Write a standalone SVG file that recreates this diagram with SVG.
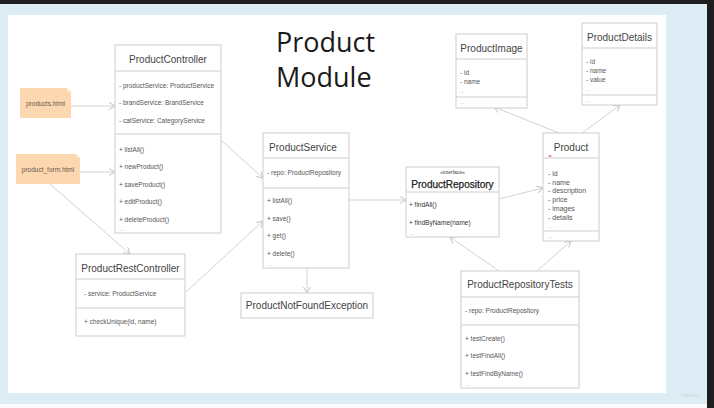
<svg xmlns="http://www.w3.org/2000/svg" width="714" height="408" viewBox="0 0 714 408">
<defs>
<style>
.box{fill:#fff;stroke:#cdcdcd;stroke-width:1}
.div{stroke:#cdcdcd;stroke-width:1}
.ttl{font-family:"Liberation Sans",Arial,sans-serif;font-size:10px;fill:#444;text-anchor:middle}
.mem{font-family:"Liberation Sans",Arial,sans-serif;font-size:6.5px;fill:#555}
.pm{font-family:"Liberation Sans",Arial,sans-serif;font-size:7px;fill:#555}
.dots{font-family:"Liberation Sans",Arial,sans-serif;font-size:6px;fill:#aaa}
.note{fill:#fcd7b0}
.fold{fill:#fde9d4}
.ntx{font-family:"Liberation Sans",Arial,sans-serif;font-size:6.5px;fill:#6a5a4a;text-anchor:middle}
.con{fill:none;stroke:#d2d2d2;stroke-width:1}
</style>
<marker id="arr" viewBox="-7 -4 8 8" refX="0" refY="0" markerWidth="8" markerHeight="8" markerUnits="userSpaceOnUse" orient="auto">
<path d="M-6,-3.5 L0,0 L-6,3.5" fill="none" stroke="#c4c4c4" stroke-width="1"/>
</marker>
</defs>
<rect x="0" y="0" width="714" height="408" fill="#fbfbfb"/>
<rect x="0" y="0" width="707" height="404" fill="#deedf5"/>
<rect x="0" y="0" width="714" height="4" fill="#1e1e1e"/>
<rect x="707" y="0" width="7" height="408" fill="#1e1e1e"/>
<rect x="8" y="15" width="658" height="378" fill="#fff"/>
<text x="690" y="397" font-family="Liberation Sans,Arial,sans-serif" font-size="6" fill="#c8d8e2" text-anchor="middle">Udemy</text>

<text font-family="'Open Sans','Noto Sans',sans-serif" font-size="27" fill="#1a1a1a"><tspan x="276" y="52">Product</tspan><tspan x="276" y="87">Module</tspan></text>

<g id="connectors">
<path class="con" d="M71,106 L115,106" marker-end="url(#arr)"/>
<path class="con" d="M80,172 L115,172" marker-end="url(#arr)"/>
<path class="con" d="M50,184 L130,254" marker-end="url(#arr)"/>
<path class="con" d="M221,140 L263,178" marker-end="url(#arr)"/>
<path class="con" d="M186,292 L263,221" marker-end="url(#arr)"/>
<path class="con" d="M307,268 L307,293" marker-end="url(#arr)"/>
<path class="con" d="M349,200 L406,200" marker-end="url(#arr)"/>
<path class="con" d="M499,199 L543,188" marker-end="url(#arr)"/>
<path class="con" d="M559,133 L494,107" marker-end="url(#arr)"/>
<path class="con" d="M582,133 L620,105" marker-end="url(#arr)"/>
<path class="con" d="M499,271 L450,237" marker-end="url(#arr)"/>
<path class="con" d="M537,271 L571,241" marker-end="url(#arr)"/>
</g>

<g id="products_html">
<path class="note" d="M20,88 H67 L71,92 V118 H20 Z"/>
<path class="fold" d="M67,88 L71,92 H67 Z"/>
<text class="ntx" x="45.5" y="106.3">products.html</text>
</g>

<g id="product_form_html">
<path class="note" d="M16,154 H76 L80,158 V184 H16 Z"/>
<path class="fold" d="M76,154 L80,158 H76 Z"/>
<text class="ntx" x="48" y="172.3">product_form.html</text>
</g>

<g id="ProductController">
<rect class="box" x="115" y="45" width="106" height="188"/>
<line class="div" x1="115" y1="71" x2="221" y2="71"/>
<line class="div" x1="115" y1="134" x2="221" y2="134"/>
<text class="ttl" x="168" y="62.5">ProductController</text>
<text class="mem" x="119" y="87.5">- productService: ProductService</text>
<text class="mem" x="119" y="104.5">- brandService: BrandService</text>
<text class="mem" x="119" y="122.5">- catService: CategoryService</text>
<text class="mem" x="119" y="151.5">+ listAll()</text>
<text class="mem" x="119" y="168.5">+ newProduct()</text>
<text class="mem" x="119" y="186.5">+ saveProduct()</text>
<text class="mem" x="119" y="203.5">+ editProduct()</text>
<text class="mem" x="119" y="221.5">+ deleteProduct()</text>
<text class="dots" x="119" y="230.5">...</text>
</g>

<g id="ProductService">
<rect class="box" x="263" y="133" width="86" height="135"/>
<line class="div" x1="263" y1="158" x2="349" y2="158"/>
<line class="div" x1="263" y1="188" x2="349" y2="188"/>
<text class="ttl" x="303" y="150.5">ProductService</text>
<text class="mem" x="267" y="175.3">- repo: ProductRepository</text>
<text class="mem" x="267" y="203.3">+ listAll()</text>
<text class="mem" x="267" y="221.3">+ save()</text>
<text class="mem" x="267" y="238.3">+ get()</text>
<text class="mem" x="267" y="256.3">+ delete()</text>
<text class="dots" x="267" y="265.5">...</text>
</g>

<g id="ProductRestController">
<rect class="box" x="76" y="254" width="109" height="82"/>
<line class="div" x1="76" y1="279" x2="185" y2="279"/>
<line class="div" x1="76" y1="308" x2="185" y2="308"/>
<text class="ttl" x="130.5" y="271.5">ProductRestController</text>
<text class="mem" x="84" y="296.3">- service: ProductService</text>
<text class="mem" x="84" y="324.3">+ checkUnique(id, name)</text>
</g>

<g id="ProductNotFoundException">
<rect class="box" x="241" y="293" width="132" height="25"/>
<text class="ttl" x="307" y="309">ProductNotFoundException</text>
</g>

<g id="ProductRepository">
<rect class="box" x="406" y="167" width="93" height="70"/>
<line class="div" x1="406" y1="192" x2="499" y2="192"/>
<text class="ttl" x="452.5" y="173.8" style="font-size:5px">«interface»</text>
<text class="ttl" x="452.5" y="187.5" style="font-size:10px;fill:#222;stroke:#222;stroke-width:0.25">ProductRepository</text>
<text class="mem" x="409" y="207.3" style="fill:#333">+ findAll()</text>
<text class="mem" x="409" y="225.3" style="fill:#333">+ findByName(name)</text>
<text class="dots" x="409" y="234.5">...</text>
</g>

<g id="Product">
<rect class="box" x="543" y="133" width="56" height="108"/>
<line class="div" x1="543" y1="158" x2="599" y2="158"/>
<line class="div" x1="543" y1="231" x2="599" y2="231"/>
<text class="ttl" x="571" y="150.5">Product</text>
<line x1="548.5" y1="156" x2="551.5" y2="156" stroke="#e03030" stroke-width="1"/>
<text class="pm" x="548" y="175.5">- id</text>
<text class="pm" x="548" y="184.5">- name</text>
<text class="pm" x="548" y="192.5">- description</text>
<text class="pm" x="548" y="201.5">- price</text>
<text class="pm" x="548" y="210.5">- images</text>
<text class="pm" x="548" y="219.5">- details</text>
<text class="dots" x="548" y="227.5">...</text>
<text class="dots" x="548" y="238">...</text>
</g>

<g id="ProductImage">
<rect class="box" x="456" y="34" width="71" height="74"/>
<line class="div" x1="456" y1="59" x2="527" y2="59"/>
<line class="div" x1="456" y1="97" x2="527" y2="97"/>
<text class="ttl" x="491.5" y="51.5">ProductImage</text>
<text class="mem" x="460" y="75.3">- id</text>
<text class="mem" x="460" y="84.3">- name</text>
<text class="dots" x="460" y="92.5">...</text>
<text class="dots" x="460" y="104">...</text>
</g>

<g id="ProductDetails">
<rect class="box" x="582" y="23" width="75" height="82"/>
<line class="div" x1="582" y1="48" x2="657" y2="48"/>
<line class="div" x1="582" y1="95" x2="657" y2="95"/>
<text class="ttl" x="619.5" y="40.5">ProductDetails</text>
<text class="mem" x="586" y="64.3">- id</text>
<text class="mem" x="586" y="73.3">- name</text>
<text class="mem" x="586" y="82.3">- value</text>
<text class="dots" x="586" y="90.5">...</text>
<text class="dots" x="586" y="102">...</text>
</g>

<g id="ProductRepositoryTests">
<rect class="box" x="461" y="271" width="118" height="117"/>
<line class="div" x1="461" y1="297" x2="579" y2="297"/>
<line class="div" x1="461" y1="325" x2="579" y2="325"/>
<text class="ttl" x="520" y="287.5">ProductRepositoryTests</text>
<text class="mem" x="465" y="313.3">- repo: ProductRepository</text>
<text class="mem" x="465" y="341.3">+ testCreate()</text>
<text class="mem" x="465" y="358.3">+ testFindAll()</text>
<text class="mem" x="465" y="376.3">+ testFindByName()</text>
<text class="dots" x="465" y="385.5">...</text>
</g>
</svg>
